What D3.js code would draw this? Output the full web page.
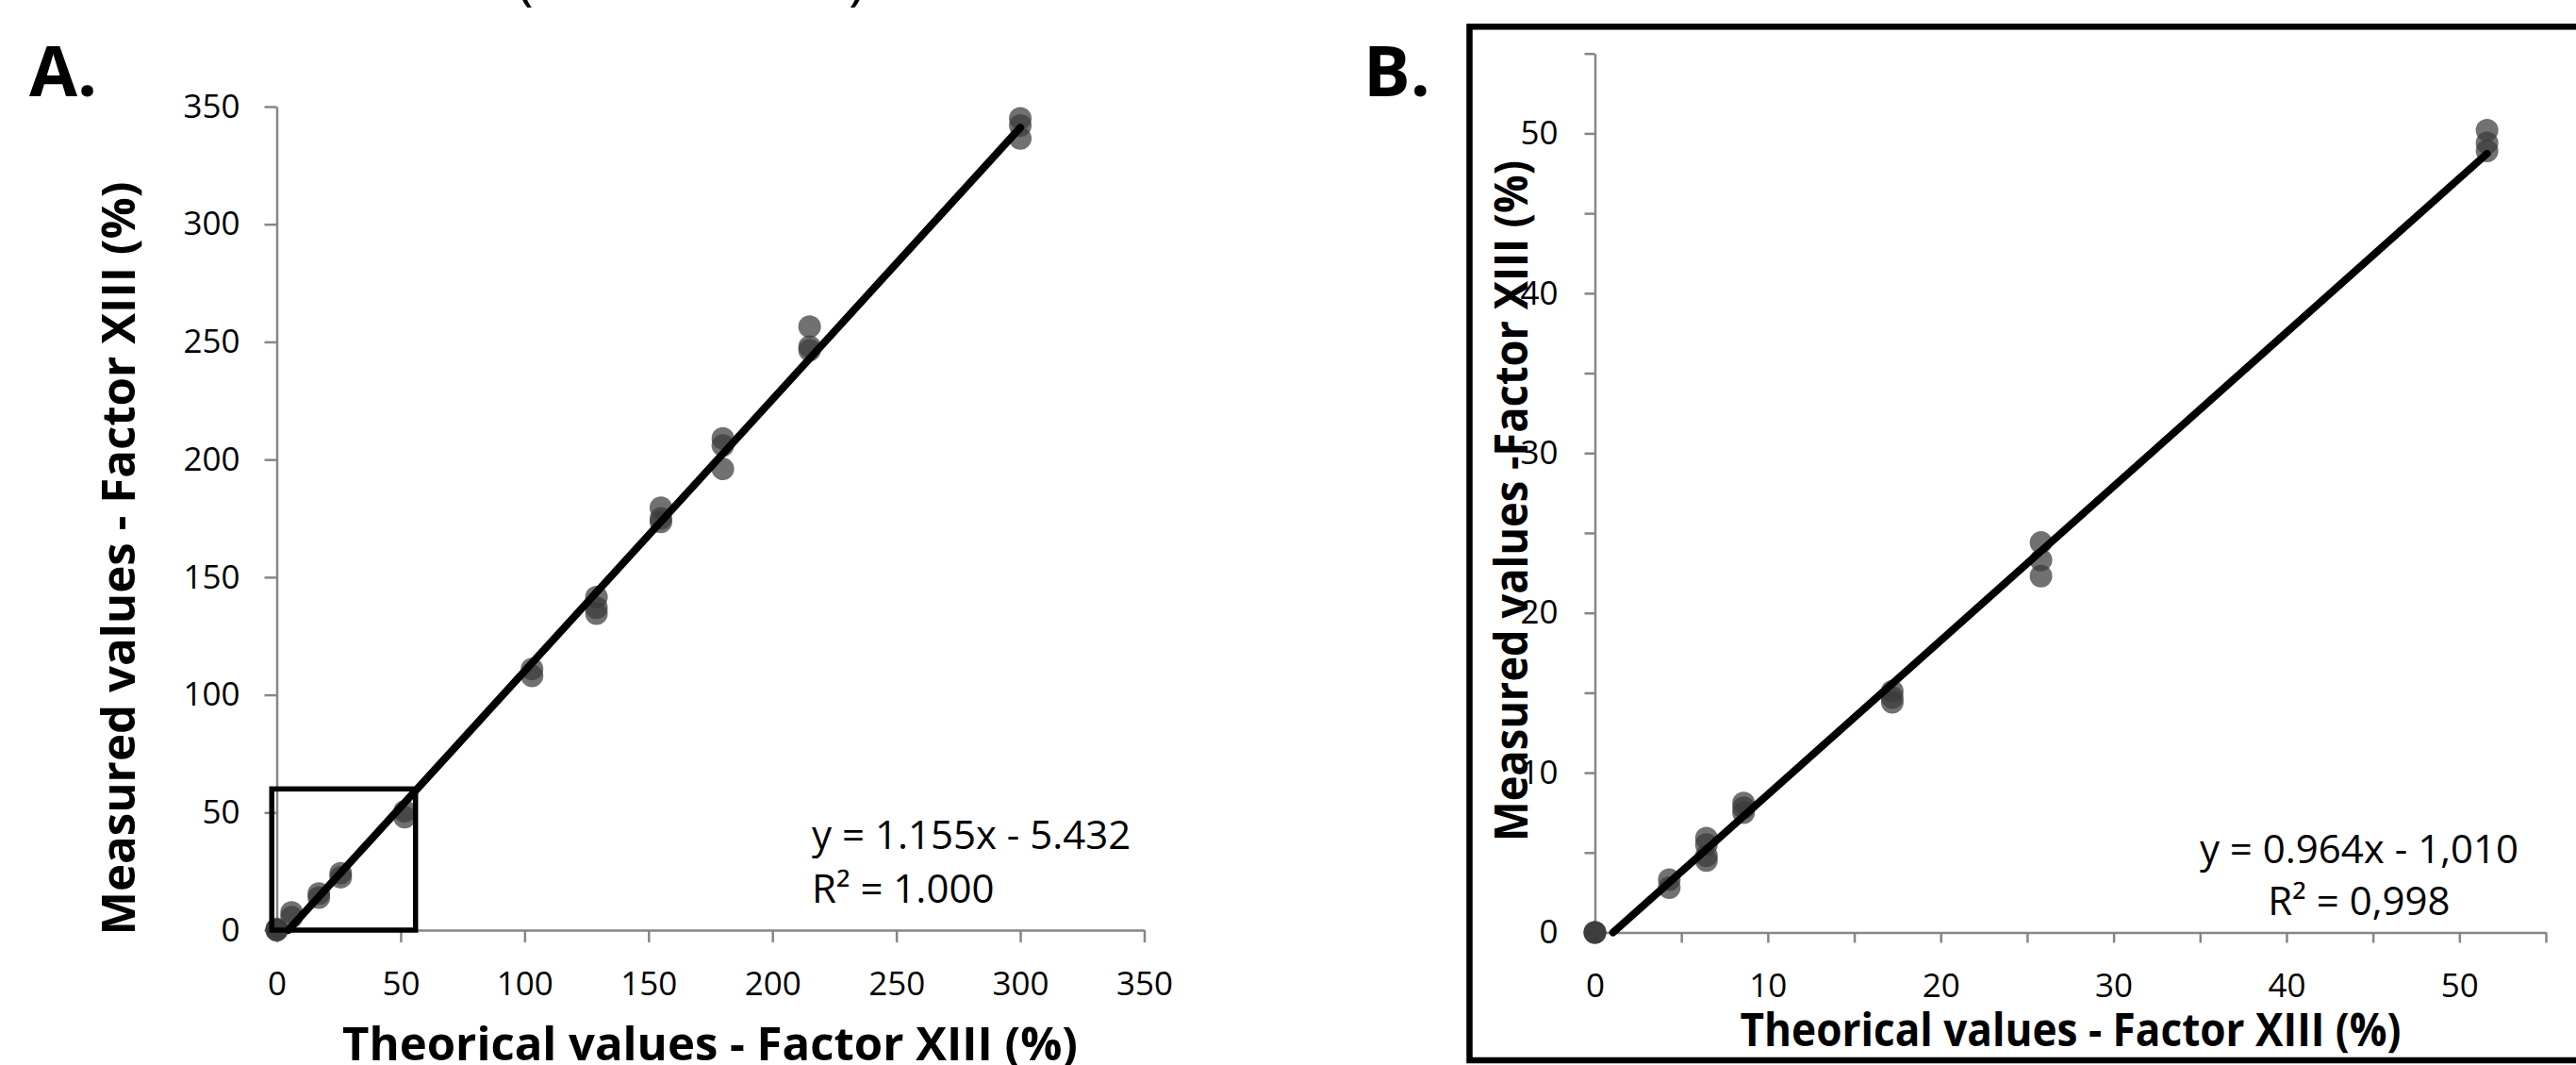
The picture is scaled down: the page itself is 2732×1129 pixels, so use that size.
<!DOCTYPE html>
<html>
<head>
<meta charset="utf-8">
<script src="https://cdn.jsdelivr.net/npm/d3@7"></script>
<style>
  body { margin: 0; background: #fff; }
  text { font-family: "Open Sans", "Noto Sans", sans-serif; fill: #000; }
  .axis path, .axis line { stroke: #868686; stroke-width: 2.5; }
  .axis text { font-size: 35px; }
  .title { font-weight: 700; font-size: 48px; }
  .panel-label { font-weight: 700; font-size: 74px; }
  .eq { font-size: 42px; }
</style>
</head>
<body>
<svg id="chart"></svg>
<script>
// ---- data ----
// panel A, full range
const theoA = [0, 0, 0, 6, 6, 17, 17, 25.8, 25.8, 51.6, 51.6, 103, 103, 129, 129, 129,
    155, 155, 155, 180, 180, 180, 215, 215, 215, 300, 300, 300];
const measA = [0, 0.5, 0, 7.5, 5.5, 15.5, 13.8, 24.2, 22.5, 50.5, 48, 111, 108, 141.5, 137, 134.5,
    179.5, 175, 173.5, 209, 206, 196, 256.5, 248, 246.5, 345, 342, 336.5];
const fitA = { slope: 1.155, intercept: -5.432 };
const eqA = ["y = 1.155x - 5.432", "R² = 1.000"];
const ticksA = [0, 50, 100, 150, 200, 250, 300, 350];
const boxA = { x0: -2, x1: 56, y0: 0, y1: 60 };   // zoomed region shown in B

// panel B, low range
const theoB = [0, 0, 0, 4.3, 4.3, 6.45, 6.45, 6.45, 6.45, 8.6, 8.6, 8.6, 17.2, 17.2, 17.2,
    25.8, 25.8, 25.8, 51.6, 51.6, 51.6];
const measB = [0, 0, 0, 3.3, 2.8, 5.9, 5.5, 4.8, 4.5, 8.1, 7.8, 7.5, 15.1, 14.7, 14.4,
    24.4, 23.3, 22.3, 50.2, 49.4, 48.9];
const fitB = { slope: 0.964, intercept: -1.010 };
const eqB = ["y = 0.964x - 1,010", "R² = 0,998"];
const ticksB = [0, 5, 10, 15, 20, 25, 30, 35, 40, 45, 50, 55];

const xTitle = "Theorical values - Factor XIII (%)";
const yTitleA = "Measured values - Factor XIII (%)";
const yTitleB = "Measured values -Factor XIII (%)";

const width = 2732, height = 1129;

const svg = d3.select("#chart")
    .attr("width", width)
    .attr("height", height);

svg.append("rect").attr("width", width).attr("height", height).attr("fill", "#fff");

// cut-off heading at the very top
svg.append("text").attr("x", 548).attr("y", -2).style("font-size", "60px").text("(");
svg.append("text").attr("x", 900).attr("y", -2).style("font-size", "60px").text(")");

function drawPoints(g, xs, ys, x, y) {
    g.append("g")
        .selectAll("circle")
        .data(xs.map((d, i) => [d, ys[i]]))
        .join("circle")
        .attr("cx", d => x(d[0]))
        .attr("cy", d => y(d[1]))
        .attr("r", 12)
        .attr("fill", "#3a3a3a")
        .attr("fill-opacity", 0.72);
}

function drawFit(g, fit, xEnd, x, y) {
    const xStart = -fit.intercept / fit.slope;
    g.append("line")
        .attr("x1", x(xStart)).attr("y1", y(0))
        .attr("x2", x(xEnd)).attr("y2", y(fit.slope * xEnd + fit.intercept))
        .attr("stroke", "#000")
        .attr("stroke-width", 8)
        .attr("stroke-linecap", "round");
}

// ---------------- Panel A ----------------
{
    const x = d3.scaleLinear().domain([0, 350]).range([293.5, 1213.5]);
    const y = d3.scaleLinear().domain([0, 350]).range([986, 113]);
    const g = svg.append("g");

    g.append("g").attr("class", "axis")
        .attr("transform", `translate(0,${y(0)})`)
        .call(d3.axisBottom(x).tickValues(ticksA).tickSize(13).tickSizeOuter(0).tickPadding(31));

    g.append("g").attr("class", "axis")
        .attr("transform", `translate(${x(0)},0)`)
        .call(d3.axisLeft(y).tickValues(ticksA).tickSize(13).tickSizeOuter(0).tickPadding(26));

    drawPoints(g, theoA, measA, x, y);
    drawFit(g, fitA, d3.max(theoA), x, y);

    g.append("rect")
        .attr("x", x(boxA.x0)).attr("y", y(boxA.y1))
        .attr("width", x(boxA.x1) - x(boxA.x0))
        .attr("height", y(boxA.y0) - y(boxA.y1))
        .attr("fill", "none")
        .attr("stroke", "#000")
        .attr("stroke-width", 5.5);

    g.selectAll(".eqA")
        .data(eqA)
        .join("text")
        .attr("class", "eq")
        .attr("x", 861)
        .attr("y", (d, i) => 900 + i * 57)
        .text(d => d);

    g.append("text").attr("class", "title")
        .attr("x", 753).attr("y", 1124)
        .attr("text-anchor", "middle")
        .attr("textLength", 780).attr("lengthAdjust", "spacingAndGlyphs")
        .text(xTitle);

    g.append("text").attr("class", "title")
        .attr("transform", "translate(143,592) rotate(-90)")
        .attr("text-anchor", "middle")
        .attr("textLength", 799).attr("lengthAdjust", "spacingAndGlyphs")
        .text(yTitleA);

    g.append("text").attr("class", "panel-label")
        .attr("x", 31).attr("y", 102)
        .text("A.");
}

// ---------------- Panel B ----------------
{
    const x = d3.scaleLinear().domain([0, 55]).range([1691.5, 2700]);
    const y = d3.scaleLinear().domain([0, 55]).range([988.5, 56.7]);
    const g = svg.append("g");

    // frame around panel B (runs off the right edge)
    g.append("rect")
        .attr("x", 1558.5).attr("y", 28.3)
        .attr("width", 1300).attr("height", 1124 - 28.3)
        .attr("fill", "none")
        .attr("stroke", "#000")
        .attr("stroke-width", 6.5);

    const fmt = d => d % 10 === 0 ? d : "";

    g.append("g").attr("class", "axis")
        .attr("transform", `translate(0,${y(0)})`)
        .call(d3.axisBottom(x).tickValues(ticksB).tickFormat(fmt).tickSize(11).tickSizeOuter(0).tickPadding(33));

    g.append("g").attr("class", "axis")
        .attr("transform", `translate(${x(0)},0)`)
        .call(d3.axisLeft(y).tickValues(ticksB).tickFormat(fmt).tickSize(11).tickSizeOuter(0).tickPadding(28));

    drawPoints(g, theoB, measB, x, y);
    drawFit(g, fitB, d3.max(theoB), x, y);

    g.selectAll(".eqB")
        .data(eqB)
        .join("text")
        .attr("class", "eq")
        .attr("x", 2502)
        .attr("y", (d, i) => 915 + i * 55)
        .attr("text-anchor", "middle")
        .text(d => d);

    g.append("text").attr("class", "title")
        .attr("x", 2196).attr("y", 1109)
        .attr("text-anchor", "middle")
        .attr("textLength", 701).attr("lengthAdjust", "spacingAndGlyphs")
        .text(xTitle);

    // this title overlaps the tick labels in the original
    g.append("text").attr("class", "title")
        .attr("transform", "translate(1620,531) rotate(-90)")
        .attr("text-anchor", "middle")
        .attr("textLength", 722).attr("lengthAdjust", "spacingAndGlyphs")
        .text(yTitleB);

    g.append("text").attr("class", "panel-label")
        .attr("x", 1446).attr("y", 102)
        .text("B.");
}

svg.selectAll(".axis text").style("fill", "#000");
</script>
</body>
</html>
